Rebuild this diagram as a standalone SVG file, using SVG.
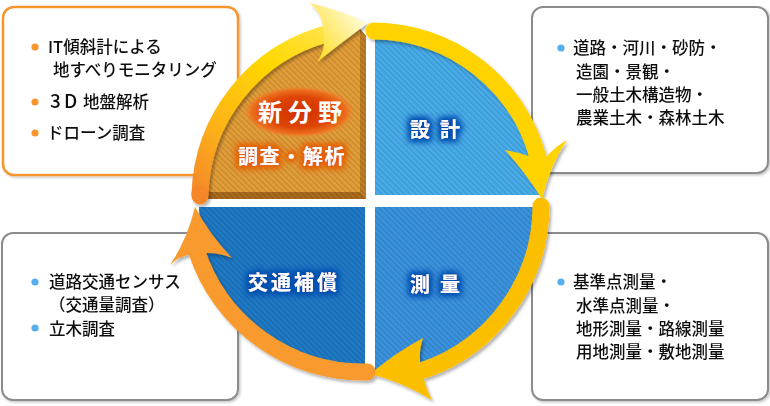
<svg xmlns="http://www.w3.org/2000/svg" width="770" height="406" viewBox="0 0 770 406">
<defs>
<style>
.box{fill:#fff;stroke:#8c8c8c;stroke-width:2}
.boxo{fill:#fff;stroke:#F7962D;stroke-width:2.5}
.t{font-family:"Noto Sans CJK JP","Noto Sans",sans-serif;font-size:16.5px;font-weight:500;fill:#111}
.ql{font-family:"Noto Sans CJK JP","Noto Sans",sans-serif;font-weight:bold;fill:#fff}
.band{fill:none;stroke-width:17}
</style>
<pattern id="stripe" width="4" height="4" patternUnits="userSpaceOnUse" patternTransform="rotate(-45)">
<rect width="1.4" height="4" fill="#000" fill-opacity="0.13"/>
</pattern>
<filter id="sh" x="-20%" y="-20%" width="140%" height="140%">
<feDropShadow dx="2" dy="2.5" stdDeviation="1.8" flood-color="#000" flood-opacity="0.3"/>
</filter>
<filter id="bsh" x="-10%" y="-10%" width="120%" height="120%">
<feDropShadow dx="1.5" dy="1.5" stdDeviation="1.2" flood-color="#000" flood-opacity="0.22"/>
</filter>
<filter id="glowB" x="-30%" y="-60%" width="160%" height="220%">
<feMorphology in="SourceAlpha" operator="dilate" radius="1.5" result="d"/>
<feGaussianBlur in="d" stdDeviation="3" result="b"/>
<feFlood flood-color="#0650b0"/>
<feComposite in2="b" operator="in" result="g"/>
<feMerge><feMergeNode in="g"/><feMergeNode in="g"/><feMergeNode in="SourceGraphic"/></feMerge>
</filter>
<filter id="glowO" x="-30%" y="-60%" width="160%" height="220%">
<feMorphology in="SourceAlpha" operator="dilate" radius="1.5" result="d"/>
<feGaussianBlur in="d" stdDeviation="3" result="b"/>
<feFlood flood-color="#E5600A"/>
<feComposite in2="b" operator="in" result="g"/>
<feMerge><feMergeNode in="g"/><feMergeNode in="g"/><feMergeNode in="SourceGraphic"/></feMerge>
</filter>
<radialGradient id="ell" cx="0.5" cy="0.5" r="0.5">
<stop offset="0" stop-color="#D03000"/>
<stop offset="0.6" stop-color="#DE4604"/>
<stop offset="0.85" stop-color="#EC701E"/>
<stop offset="1" stop-color="#F08A30" stop-opacity="0"/>
</radialGradient>
<linearGradient id="gTL" gradientUnits="userSpaceOnUse" x1="200" y1="200" x2="330" y2="30">
<stop offset="0" stop-color="#F5862B"/>
<stop offset="0.35" stop-color="#FDB616"/>
<stop offset="0.7" stop-color="#FFD800"/>
<stop offset="1" stop-color="#FFE44A"/>
</linearGradient>
<linearGradient id="gHead" gradientUnits="userSpaceOnUse" x1="318" y1="55" x2="366" y2="18">
<stop offset="0" stop-color="#FFDF2A"/>
<stop offset="1" stop-color="#FFFCE0"/>
</linearGradient>
</defs>

<rect width="770" height="406" fill="#fff"/>

<g id="box-new" filter="url(#bsh)">
<rect class="boxo" x="3" y="7" width="235" height="168" rx="11"/>
<circle cx="35" cy="47" r="3.6" fill="#F7962D"/>
<circle cx="35" cy="102" r="3.6" fill="#F7962D"/>
<circle cx="35" cy="133" r="3.6" fill="#F7962D"/>
<text class="t" x="48" y="53">IT傾斜計による</text>
<text class="t" x="53" y="76">地すべりモニタリング</text>
<text class="t" x="50" y="108"><tspan x="50" font-size="19">3</tspan><tspan x="64" font-size="19">D</tspan><tspan x="83">地盤解析</tspan></text>
<text class="t" x="47" y="139">ドローン調査</text>
</g>

<g id="box-design" filter="url(#bsh)">
<rect class="box" x="532" y="7" width="236" height="166" rx="11"/>
<circle cx="561" cy="48" r="3.6" fill="#57AEEC"/>
<text class="t" x="573" y="54">道路・河川・砂防・</text>
<text class="t" x="576" y="78">造園・景観・</text>
<text class="t" x="576" y="101">一般土木構造物・</text>
<text class="t" x="576" y="124">農業土木・森林土木</text>
</g>

<g id="box-traffic" filter="url(#bsh)">
<rect class="box" x="2" y="233" width="236" height="167" rx="11"/>
<circle cx="35" cy="282" r="3.6" fill="#57AEEC"/>
<circle cx="35" cy="328" r="3.6" fill="#57AEEC"/>
<text class="t" x="49" y="288">道路交通センサス</text>
<text class="t" x="49" y="311">（交通量調査）</text>
<text class="t" x="49" y="335">立木調査</text>
</g>

<g id="box-survey" filter="url(#bsh)">
<rect class="box" x="532" y="233" width="236" height="167" rx="11"/>
<circle cx="561" cy="282" r="3.6" fill="#57AEEC"/>
<text class="t" x="573" y="288">基準点測量・</text>
<text class="t" x="576" y="312">水準点測量・</text>
<text class="t" x="576" y="335">地形測量・路線測量</text>
<text class="t" x="576" y="358">用地測量・敷地測量</text>
</g>

<g id="q-new">
<path d="M366,36 L366,199 L204,199 L197,192 L360,192 L360,29 Z" fill="#A96A1C"/>
<path d="M360,29 L366,36 L366,199 L360,192 Z" fill="#C27E25"/>
<path d="M360,29 L366,36 L366,199 L360,192 Z" fill="url(#stripe)"/>
<path d="M197,192 L204,199 L366,199 L360,192 Z" fill="url(#stripe)"/>
<path d="M360,192 L197,192 A163,163 0 0 1 360,29 Z" fill="#E39E38"/>
<path d="M360,192 L197,192 A163,163 0 0 1 360,29 Z" fill="url(#stripe)"/>
<ellipse cx="299" cy="112" rx="56" ry="26" fill="url(#ell)"/>
<text class="ql" x="258" y="121" font-size="24" letter-spacing="6">新分野</text>
<text class="ql" x="238" y="164" font-size="20" letter-spacing="1.6" filter="url(#glowO)">調査・解析</text>
</g>

<g id="q-design">
<path d="M375,195 L375,30 A165,165 0 0 1 540,195 Z" fill="#48ADEB"/>
<path d="M375,195 L375,30 A165,165 0 0 1 540,195 Z" fill="url(#stripe)"/>
<text class="ql" x="410" y="137" font-size="20" letter-spacing="10" filter="url(#glowB)">設計</text>
</g>

<g id="q-survey">
<path d="M375,207 L540,207 A165,165 0 0 1 375,372 Z" fill="#3A93DF"/>
<path d="M375,207 L540,207 A165,165 0 0 1 375,372 Z" fill="url(#stripe)"/>
<text class="ql" x="410" y="292" font-size="20" letter-spacing="10" filter="url(#glowB)">測量</text>
</g>

<g id="q-traffic">
<path d="M365,207 L365,373 A166,166 0 0 1 199,207 Z" fill="#1F7AC6"/>
<path d="M365,207 L365,373 A166,166 0 0 1 199,207 Z" fill="url(#stripe)"/>
<text class="ql" x="248" y="290" font-size="20" letter-spacing="3" filter="url(#glowB)">交通補償</text>
</g>

<g id="connectors" filter="url(#sh)">
<g id="arrow-new-design">
<path class="band" d="M200,194 A172,172 0 0 1 326,34" stroke="url(#gTL)" stroke-linecap="round"/>
<path d="M200,194 L200,196" class="band" stroke="#F5862B" stroke-linecap="round"/>
<path d="M368,23 Q340,10 310,3 Q322,14 323,27 L324,44 Q323,54 317,62 Q345,40 368,23 Z" fill="url(#gHead)"/>
</g>
<g id="arrow-design-survey">
<path class="band" d="M374,31 A171,171 0 0 1 538,158" stroke="#FFD300" stroke-linecap="round"/>
<path d="M542,199 Q525,172 505,150 Q517,152 528,156 L547,156 Q556,146 567,140 Q550,165 542,199 Z" fill="#FFD300"/>
</g>
<g id="arrow-survey-traffic">
<path class="band" d="M541,206 A174,174 0 0 1 424,370" stroke="#FCBF00" stroke-linecap="round"/>
<path d="M370,374 Q398,351 423,338 Q419,350 420,361 L424,380 Q427,391 432,400 Q400,381 370,374 Z" fill="#FCBF00"/>
</g>
<g id="arrow-traffic-new">
<path class="band" d="M367,372 A175,175 0 0 1 197,252" stroke="#F89A2D" stroke-linecap="round"/>
<path d="M195,207 Q187,240 170,265 Q178,257 188,255 L207,253 Q220,253 232,258 Q210,235 195,207 Z" fill="#F89A2D"/>
</g>
</g>
</svg>
